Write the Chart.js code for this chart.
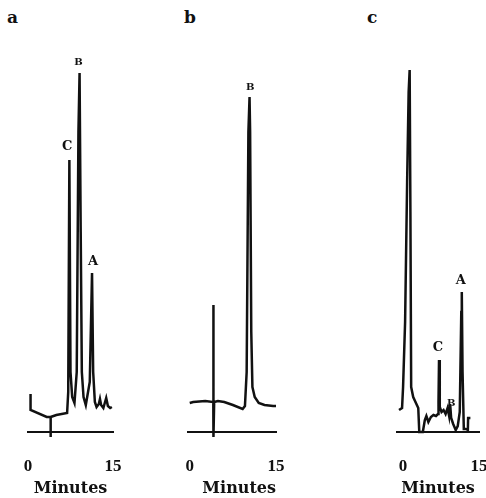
<!DOCTYPE html>
<html>
<head>
<meta charset="utf-8">
<script src="https://cdn.jsdelivr.net/npm/chart.js@4/dist/chart.umd.min.js"></script>
<style>
  body { margin: 0; background: #fff; width: 486px; height: 498px; overflow: hidden; position: relative; }
  .panel { position: absolute; top: 0; height: 498px; }
  .letter { position: absolute; top: 7px; font: bold 17px "DejaVu Serif", serif; color: #111; }
</style>
</head>
<body>
<div class="letter" style="left:7px">a</div>
<div class="letter" style="left:184px">b</div>
<div class="letter" style="left:367px">c</div>
<div class="panel" style="left:0;width:140px"><canvas id="chartA"></canvas></div>
<div class="panel" style="left:160px;width:140px"><canvas id="chartB"></canvas></div>
<div class="panel" style="left:320px;width:175px"><canvas id="chartC"></canvas></div>
<script>
// time in minutes, detector signal in arbitrary units
const timeA = [0.45, 0.45, 3.3, 4.0, 4.0, 4.0, 5.0, 6.9, 7.1, 7.3, 7.5, 7.8, 8.2, 8.6, 8.9, 9.1, 9.3, 9.5, 9.8, 10.2, 10.9, 11.3, 11.5, 11.8, 12.1, 12.5, 12.7, 12.9, 13.3, 13.6, 13.8, 14.1, 14.5, 14.8];
const signalA = [38, 22, 15, 15, -5, 15, 17, 19, 40, 272, 60, 35, 29, 60, 300, 359, 200, 60, 35, 27, 50, 159, 60, 30, 25, 28, 33, 27, 24, 30, 34, 26, 24, 25];
const peaksA = ['C', 'B', 'A'];
const peakTimeA = [6.9, 8.9, 11.5];
const peakHeightA = [285, 370, 170];

const timeB = [0, 0.6, 2.7, 4.1, 4.1, 4.15, 4.25, 4.9, 6.0, 7.5, 9.2, 9.6, 9.9, 10.2, 10.4, 10.5, 10.7, 10.9, 11.3, 12.0, 13.0, 14.5, 15];
const signalB = [29, 30, 31, 30, 127, -5, 30, 31, 30, 27, 23, 26, 60, 300, 335, 300, 100, 45, 35, 29, 27, 26, 26];
const peaksB = ['B'];
const peakTimeB = [10.5];
const peakHeightB = [345];

const timeC = [-0.8, -0.2, 0, 0.4, 0.8, 1.1, 1.3, 1.45, 1.6, 2.0, 3.0, 3.2, 3.9, 4.3, 4.6, 5.0, 5.5, 6.0, 6.5, 6.9, 7.0, 7.1, 7.25, 7.6, 8.0, 8.4, 8.8, 9.1, 9.3, 9.5, 9.9, 10.4, 10.8, 11.2, 11.5, 11.6, 11.75, 12.0, 12.4, 12.8, 12.85, 13.3];
const signalC = [22, 24, 45, 110, 250, 340, 362, 220, 45, 35, 24, 0, 0, 12, 16, 10, 15, 17, 16, 18, 30, 72, 25, 20, 22, 18, 24, 16, 28, 14, 8, 2, 6, 20, 120, 140, 60, 3, 3, 2, 14, 14];
const peaksC = ['C', 'B', 'A'];
const peakTimeC = [6.9, 9.5, 11.4];
const peakHeightC = [84, 29, 151];

const xTicks = [0, 15];

const peakLabels = {
    id: 'peakLabels',
    afterDatasetsDraw(chart, args, opts) {
        const { ctx, scales: { x, y } } = chart;
        ctx.save();
        ctx.fillStyle = '#111';
        ctx.textAlign = 'center';
        ctx.textBaseline = 'middle';
        opts.names.forEach((n, i) => {
            ctx.font = 'bold ' + (n === 'B' ? 10 : 13) + 'px "DejaVu Serif", serif';
            ctx.fillText(n, x.getPixelForValue(opts.times[i]), y.getPixelForValue(opts.heights[i]));
        });
        ctx.restore();
    }
};

function makeChart(id, time, signal, names, times, heights, xMin, xMax, padLeft, padRight, titleAlign) {
    return new Chart(document.getElementById(id), {
        type: 'line',
        data: {
            datasets: [{
                data: time.map((t, i) => ({ x: t, y: signal[i] })),
                borderColor: '#111',
                borderWidth: 2.5,
                pointRadius: 0,
                tension: 0,
                clip: false
            }]
        },
        options: {
            responsive: true,
            maintainAspectRatio: false,
            animation: false,
            events: [],
            layout: { padding: { top: 40, left: padLeft, right: padRight, bottom: 0 } },
            plugins: {
                legend: { display: false },
                tooltip: { enabled: false },
                peakLabels: { names, times, heights }
            },
            scales: {
                x: {
                    type: 'linear',
                    min: xMin,
                    max: xMax,
                    afterBuildTicks: s => { s.ticks = xTicks.map(v => ({ value: v })); },
                    afterFit: s => {
                        s.height = 66;
                        // keep the plot box where the layout padding puts it
                        s.paddingLeft = 0;
                        s.paddingRight = 0;
                    },
                    grid: { display: false },
                    border: { display: true, color: '#111', width: 2 },
                    ticks: {
                        color: '#111',
                        padding: 16,
                        maxRotation: 0,
                        font: { family: '"Liberation Serif", serif', weight: 'bold', size: 17 }
                    },
                    title: {
                        display: true,
                        text: 'Minutes',
                        align: titleAlign,
                        color: '#111',
                        padding: { top: 0, bottom: 0 },
                        font: { family: '"DejaVu Serif", serif', weight: 'bold', size: 16 }
                    }
                },
                y: { display: false, min: 0, max: 392 }
            }
        },
        plugins: [peakLabels]
    });
}

makeChart('chartA', timeA, signalA, peaksA, peakTimeA, peakHeightA, 0, 15, 28, 27, 'center');
makeChart('chartB', timeB, signalB, peaksB, peakTimeB, peakHeightB, -0.3, 15, 28, 24, 'end');
makeChart('chartC', timeC, signalC, peaksC, peakTimeC, peakHeightC, -1.2, 15, 77, 16, 'center');
</script>
</body>
</html>
